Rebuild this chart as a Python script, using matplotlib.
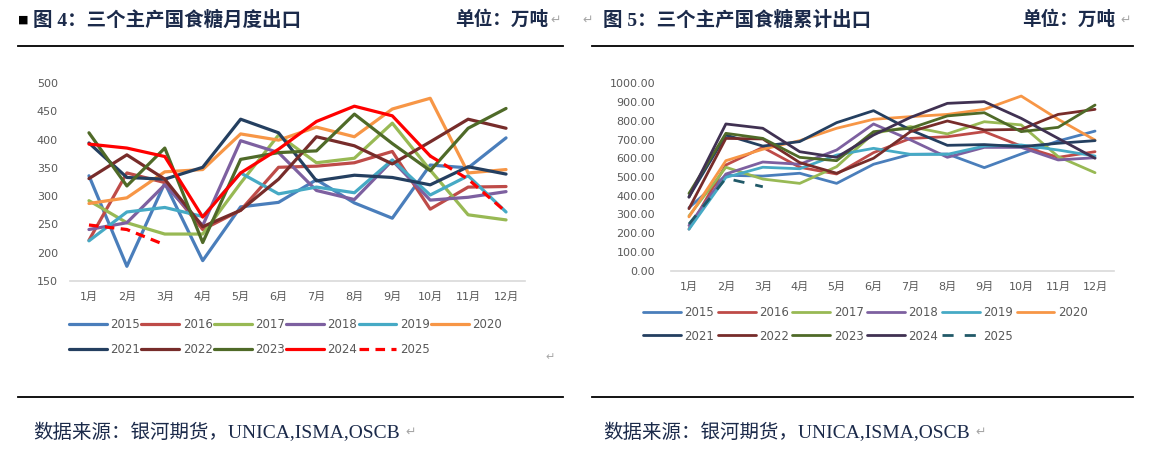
import matplotlib
matplotlib.use("Agg")
import matplotlib.pyplot as plt
from matplotlib.lines import Line2D

plt.rcParams['font.family'] = ['DejaVu Sans', 'Noto Sans CJK SC']

months = [f'{i}月' for i in range(1, 13)]
years = ['2015', '2016', '2017', '2018', '2019', '2020',
         '2021', '2022', '2023', '2024', '2025']

# 图4 月度出口（万吨）
m2015 = [336, 176, 323, 186, 281, 289, 329, 288, 261, 355, 350, 403]
m2016 = [222, 341, 324, 241, 275, 351, 353, 359, 379, 277, 316, 317]
m2017 = [292, 253, 233, 233, 323, 408, 359, 367, 429, 346, 267, 258]
m2018 = [241, 253, 320, 248, 398, 377, 310, 294, 363, 293, 298, 308]
m2019 = [221, 272, 280, 264, 341, 304, 316, 306, 364, 302, 336, 272]
m2020 = [287, 297, 343, 347, 410, 399, 422, 405, 454, 473, 341, 347]
m2021 = [394, 333, 330, 351, 436, 412, 327, 337, 333, 320, 352, 339]
m2022 = [331, 373, 330, 246, 275, 330, 405, 389, 357, 396, 436, 420]
m2023 = [412, 318, 385, 218, 365, 377, 380, 445, 393, 345, 420, 455]
m2024 = [392, 385, 370, 263, 341, 383, 432, 459, 442, 371, 330, 272]
m2025 = [249, 241, 214]

# 图5 累计出口（万吨）
c2015 = [336, 509, 505, 520, 466, 568, 621, 623, 550, 623, 692, 745]
c2016 = [222, 564, 658, 552, 516, 630, 706, 715, 742, 665, 605, 635]
c2017 = [292, 552, 489, 466, 555, 733, 769, 730, 795, 778, 609, 523]
c2018 = [241, 516, 580, 568, 644, 783, 698, 605, 658, 658, 591, 603]
c2019 = [221, 498, 552, 544, 617, 653, 621, 621, 665, 671, 644, 612]
c2020 = [287, 587, 648, 694, 760, 808, 822, 834, 861, 932, 808, 697]
c2021 = [394, 724, 665, 689, 790, 854, 751, 669, 673, 662, 680, 694]
c2022 = [331, 706, 703, 577, 520, 600, 742, 799, 751, 754, 834, 861]
c2023 = [412, 733, 706, 605, 587, 742, 760, 826, 843, 742, 765, 884]
c2024 = [392, 783, 760, 635, 605, 724, 818, 893, 902, 813, 706, 600]
c2025 = [249, 493, 448]

monthly = [m2015, m2016, m2017, m2018, m2019, m2020, m2021, m2022, m2023, m2024, m2025]
cumul = [c2015, c2016, c2017, c2018, c2019, c2020, c2021, c2022, c2023, c2024, c2025]

base_colors = ['#4A7EBB', '#BE4B48', '#98B954', '#7D60A0', '#46AAC5', '#F79646',
               '#243F60', '#772C2A', '#4F6A28']
left_colors = base_colors + ['#FF0000', '#FF0000']
right_colors = base_colors + ['#403152', '#215968']

W, H = 1175, 459
fig = plt.figure(figsize=(W / 100, H / 100), dpi=100)


def px_axes(x0, x1, ytop, ybot):
    return fig.add_axes([x0 / W, 1 - ybot / H, (x1 - x0) / W, (ybot - ytop) / H])


def style(ax, ypad):
    for s in ['top', 'right', 'left']:
        ax.spines[s].set_visible(False)
    ax.spines['bottom'].set_color('#D9D9D9')
    ax.spines['bottom'].set_linewidth(1.2)
    ax.tick_params(length=0, labelsize=8, colors='#595959')
    ax.tick_params(axis='x', pad=8)
    ax.tick_params(axis='y', pad=ypad)
    ax.set_xticks(range(1, 13))
    ax.set_xticklabels(months)
    ax.set_xlim(0.5, 12.5)


def row_legend(ax, anchor, colsp, lsp):
    # legend fills by column; reorder so it reads row by row like Excel
    h, l = ax.get_legend_handles_labels()
    order = [0, 6, 1, 7, 2, 8, 3, 9, 4, 10, 5]
    ax.legend([h[i] for i in order], [l[i] for i in order],
              loc='upper left', bbox_to_anchor=anchor, bbox_transform=fig.transFigure,
              ncol=6, frameon=False, fontsize=8.5, handlelength=3.2,
              handletextpad=0.3, columnspacing=colsp, labelspacing=lsp,
              borderpad=0, borderaxespad=0, labelcolor='#595959')


x = list(range(1, 13))

# left chart
ax1 = px_axes(70, 525, 83, 281)
style(ax1, 8.6)
for i, (yr, vals) in enumerate(zip(years, monthly)):
    xs = x[:len(vals)]
    if yr == '2025':
        ax1.plot(xs, vals, color=left_colors[i], lw=2.3, ls=(0, (3, 2)), label=yr)
    elif yr == '2024':
        ax1.plot(xs[:10], vals[:10], color=left_colors[i], lw=2.3,
                 solid_capstyle='round', label=yr)
        ax1.plot(xs[9:], vals[9:], color=left_colors[i], lw=2.3, ls=(0, (3, 2)))
    else:
        ax1.plot(xs, vals, color=left_colors[i], lw=2.3, solid_capstyle='round', label=yr)
ax1.set_ylim(150, 500)
ax1.set_yticks(range(150, 501, 50))
row_legend(ax1, (69 / W, 1 - 318 / H), 0.1, 1.0)

# right chart
ax2 = px_axes(670.5, 1113.5, 83.3, 270.7)
style(ax2, 11)
for i, (yr, vals) in enumerate(zip(years, cumul)):
    xs = x[:len(vals)]
    if yr == '2025':
        ax2.plot(xs, vals, color=right_colors[i], lw=2.0, ls=(0, (4, 4)), label=yr)
    else:
        ax2.plot(xs, vals, color=right_colors[i], lw=2.0, solid_capstyle='round', label=yr)
ax2.set_ylim(0, 1000)
ax2.set_yticks(range(0, 1001, 100))
ax2.set_yticklabels([f'{v:.2f}' for v in range(0, 1001, 100)])
row_legend(ax2, (643 / W, 1 - 306 / H), 0.3, 0.9)

# headers, rules and footers
title_font = ['Liberation Serif', 'Noto Sans CJK SC']
navy = '#1B2A4A'
fig.text(18 / W, 1 - 20 / H, '■', fontsize=8, color='black', va='center',
         family=['DejaVu Sans'])
fig.text(33 / W, 1 - 20 / H, '图 4：三个主产国食糖月度出口', fontsize=14, weight='bold',
         color=navy, va='center', family=title_font)
fig.text(455 / W, 1 - 20 / H, '单位：万吨', fontsize=13.4, weight='bold',
         color=navy, va='center', family=title_font)
fig.text(603 / W, 1 - 20 / H, '图 5：三个主产国食糖累计出口', fontsize=14, weight='bold',
         color=navy, va='center', family=title_font)
fig.text(1022 / W, 1 - 20 / H, '单位：万吨', fontsize=13.4, weight='bold',
         color=navy, va='center', family=title_font)
for xp in [550, 582, 1120]:
    fig.text(xp / W, 1 - 20 / H, '↵', fontsize=9, color='#A6A6A6', va='center',
             family=['DejaVu Sans'])

for y in [46, 397]:
    fig.add_artist(Line2D([18 / W, 563 / W], [1 - y / H] * 2, color='black', lw=1.3))
    fig.add_artist(Line2D([592 / W, 1133 / W], [1 - y / H] * 2, color='black', lw=1.3))

for xp in [33, 603]:
    fig.text(xp / W, 1 - 432 / H, '数据来源：银河期货，UNICA,ISMA,OSCB', fontsize=14,
             color=navy, va='center', family=title_font)
    fig.text((xp + 372) / W, 1 - 432 / H, '↵', fontsize=9, color='#A6A6A6', va='center',
             family=['DejaVu Sans'])
fig.text(545 / W, 1 - 357 / H, '↵', fontsize=8, color='#A6A6A6', va='center',
         family=['DejaVu Sans'])

fig.savefig('out.png', dpi=100)
